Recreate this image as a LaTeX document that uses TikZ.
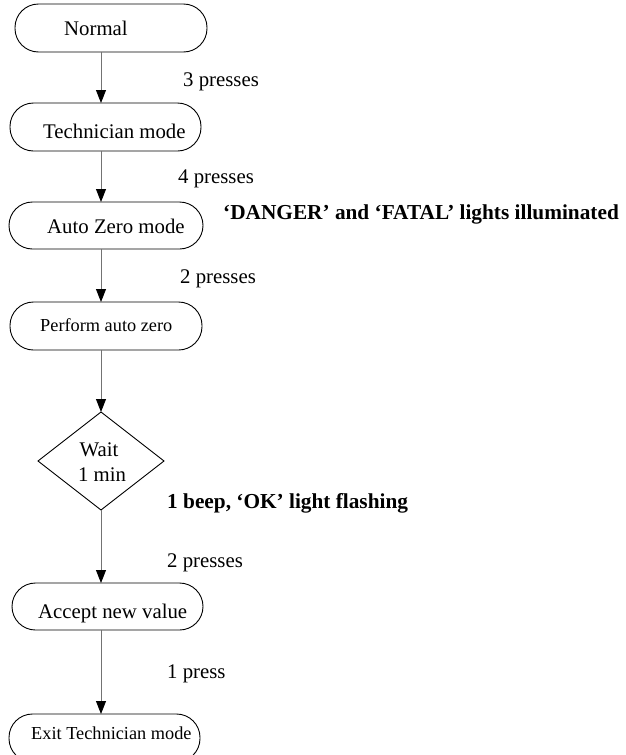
\documentclass[tikz,border=0pt]{standalone}
\usepackage{fontspec}
\setmainfont{Liberation Serif}
\usetikzlibrary{arrows.meta,shapes.geometric}
\begin{document}
\begin{tikzpicture}[x=1pt,y=-1pt,
  stadium/.style={draw=black,line width=0.9pt,rectangle,rounded corners=23.5pt,inner sep=0pt,outer sep=0pt,minimum height=48pt},
  dia/.style={draw=black,line width=0.9pt,diamond,inner sep=0pt,outer sep=0pt,minimum width=126pt,minimum height=98pt},
  txt/.style={anchor=base west,inner sep=0pt,font=\fontsize{20.8}{25}\selectfont},
  smalltxt/.style={anchor=base west,inner sep=0pt,font=\fontsize{18.3}{22}\selectfont},
  boldtxt/.style={anchor=base west,inner sep=0pt,font=\fontsize{21.3}{25}\selectfont\bfseries},
  arr/.style={draw=black!55,line width=0.9pt,-{Triangle[length=13pt,width=10pt,color=black]}}]
\useasboundingbox (0,0) rectangle (625,755);
% boxes
\node[stadium,minimum width=192pt] (normal) at (111,28) {};
\node[stadium,minimum width=191pt] (tech) at (105.5,127) {};
\node[stadium,minimum width=194pt,minimum height=47pt] (azm) at (106,225.5) {};
\node[stadium,minimum width=192pt] (paz) at (106,326) {};
\node[dia] (wait) at (101,461) {};
\node[stadium,minimum width=191pt,minimum height=47pt] (acc) at (107.5,606.5) {};
\node[stadium,minimum width=191pt] (exit) at (104.5,738) {};
% box texts
\node[txt] (tNormal) at (64,35) {Normal};
\node[txt] (tTech) at (43,138) {Technician mode};
\node[txt] (tAzm) at (47,233) {Auto Zero mode};
\node[smalltxt] (tPaz) at (40,331) {Perform auto zero};
\node[txt,anchor=base] (tWait) at (99,456) {Wait};
\node[txt,anchor=base] (tMin) at (102,481) {1 min};
\node[txt] (tAcc) at (38,618) {Accept new value};
\node[smalltxt] (tExit) at (31,739) {Exit Technician mode};
% arrows
\coordinate (ax) at (101,0);
\draw[arr] (normal.south -| ax) -- (tech.north -| ax);
\draw[arr] (tech.south -| ax) -- (azm.north -| ax);
\draw[arr] (azm.south -| ax) -- (paz.north -| ax);
\draw[arr] (paz.south -| ax) -- (wait.north);
\draw[arr] (wait.south) -- (acc.north -| ax);
\draw[arr] (acc.south -| ax) -- (exit.north -| ax);
% labels
\node[txt] (l1) at (183,86) {3 presses};
\node[txt] (l2) at (178,183) {4 presses};
\node[boldtxt] (n1) at (223,219) {‘DANGER’ and ‘FATAL’ lights illuminated};
\node[txt] (l3) at (180,283) {2 presses};
\node[boldtxt] (n2) at (167,508) {1 beep, ‘OK’ light flashing};
\node[txt] (l4) at (167,567) {2 presses};
\node[txt] (l5) at (167,678) {1 press};
\end{tikzpicture}
\end{document}
